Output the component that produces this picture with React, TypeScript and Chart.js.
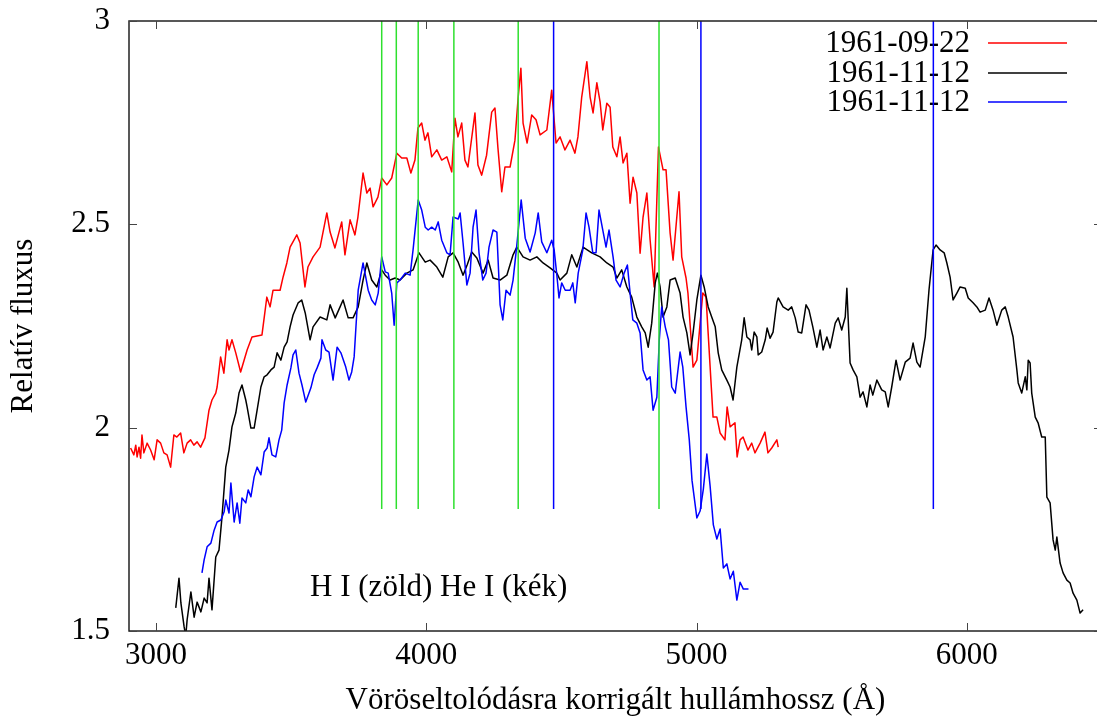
import React, { useEffect, useRef } from 'react';
import { Chart, registerables } from 'chart.js';

Chart.register(...registerables);

// ---------- data ----------
const redX = [2906,2918,2925,2930,2937,2943,2948,2955,2967,2980,2993,3004,3017,3029,3041,3054,3066,3077,3091,3103,3115,3128,3140,3152,3165,3181,3196,3207,3221,3226,3239,3251,3263,3270,3281,3295,3313,3337,3355,3392,3410,3422,3433,3459,3470,3484,3496,3521,3533,3544,3551,3562,3581,3607,3632,3644,3662,3687,3699,3718,3736,3747,3766,3780,3792,3803,3821,3835,3854,3872,3891,3909,3928,3943,3958,3969,3983,3995,4006,4020,4039,4057,4076,4094,4106,4117,4131,4143,4154,4180,4191,4205,4223,4242,4254,4265,4279,4291,4310,4328,4340,4350,4358,4373,4390,4406,4421,4446,4464,4480,4495,4513,4532,4550,4561,4575,4594,4606,4617,4631,4643,4653,4668,4680,4690,4705,4717,4728,4742,4754,4765,4779,4791,4802,4816,4828,4843,4859,4876,4887,4902,4913,4935,4945,4961,4968,4987,5001,5023,5035,5061,5075,5087,5105,5113,5124,5142,5150,5161,5172,5190,5204,5216,5235,5253,5264,5278,5297,5302];
const redY = [1.950,1.933,1.957,1.928,1.952,1.925,1.982,1.938,1.962,1.945,1.921,1.970,1.962,1.938,1.933,1.903,1.982,1.977,1.987,1.938,1.962,1.970,1.957,1.965,1.952,1.975,2.043,2.068,2.085,2.100,2.174,2.134,2.216,2.191,2.216,2.184,2.137,2.191,2.223,2.228,2.321,2.297,2.338,2.338,2.370,2.405,2.444,2.474,2.454,2.388,2.346,2.395,2.420,2.444,2.528,2.481,2.442,2.506,2.425,2.511,2.474,2.518,2.626,2.577,2.589,2.543,2.567,2.614,2.597,2.614,2.675,2.663,2.663,2.626,2.658,2.737,2.749,2.707,2.725,2.666,2.683,2.658,2.666,2.629,2.761,2.715,2.749,2.658,2.641,2.774,2.646,2.621,2.670,2.776,2.786,2.688,2.580,2.641,2.641,2.707,2.813,2.884,2.749,2.700,2.769,2.757,2.720,2.732,2.830,2.700,2.715,2.683,2.707,2.675,2.715,2.813,2.900,2.813,2.774,2.848,2.801,2.732,2.798,2.788,2.690,2.666,2.715,2.651,2.675,2.552,2.616,2.577,2.429,2.518,2.577,2.462,2.346,2.690,2.634,2.634,2.479,2.412,2.580,2.420,2.368,2.331,2.149,2.166,2.331,2.321,2.026,2.026,1.987,1.970,2.051,2.002,2.012,1.928,1.970,1.977,1.945,1.962,1.938,1.962,1.989,1.938,1.950,1.970,1.952];

const blackX = [3073,3085,3092,3104,3110,3115,3129,3141,3152,3166,3178,3189,3196,3207,3221,3233,3244,3258,3270,3281,3295,3307,3318,3332,3337,3351,3363,3374,3388,3400,3411,3425,3437,3448,3462,3474,3485,3496,3507,3526,3539,3552,3570,3581,3607,3632,3644,3663,3681,3692,3711,3729,3748,3766,3780,3798,3817,3835,3848,3866,3885,3903,3928,3951,3973,3996,4014,4039,4061,4081,4099,4118,4136,4151,4168,4187,4210,4229,4247,4273,4298,4321,4335,4358,4384,4409,4432,4458,4483,4495,4520,4538,4557,4580,4612,4643,4668,4691,4705,4723,4742,4760,4779,4797,4810,4821,4834,4847,4855,4865,4876,4890,4902,4921,4939,4950,4964,4976,4987,5001,5016,5028,5043,5056,5069,5080,5093,5112,5124,5135,5149,5167,5176,5186,5198,5204,5213,5223,5228,5241,5254,5261,5272,5283,5297,5302,5320,5339,5352,5365,5376,5389,5405,5416,5430,5445,5457,5468,5482,5494,5513,5524,5537,5550,5556,5568,5579,5593,5605,5616,5630,5642,5652,5667,5685,5698,5709,5722,5738,5753,5772,5790,5801,5815,5827,5846,5860,5875,5886,5901,5916,5926,5938,5949,5963,5975,5994,6005,6023,6037,6049,6068,6082,6097,6111,6129,6142,6153,6171,6185,6190,6203,6216,6222,6227,6234,6240,6253,6264,6277,6290,6296,6308,6319,6327,6333,6345,6356,6370,6382,6393,6407,6419,6430];
const blackY = [1.557,1.630,1.569,1.510,1.488,1.527,1.596,1.534,1.571,1.547,1.581,1.569,1.630,1.552,1.682,1.699,1.780,1.903,1.945,2.002,2.036,2.085,2.105,2.068,2.051,1.999,1.999,2.043,2.100,2.125,2.130,2.142,2.149,2.184,2.166,2.198,2.211,2.248,2.277,2.307,2.314,2.282,2.216,2.248,2.272,2.265,2.302,2.270,2.297,2.314,2.270,2.270,2.297,2.363,2.405,2.363,2.346,2.388,2.375,2.363,2.368,2.363,2.380,2.388,2.430,2.407,2.412,2.395,2.370,2.420,2.430,2.407,2.375,2.400,2.432,2.417,2.380,2.412,2.368,2.363,2.375,2.425,2.444,2.420,2.412,2.420,2.405,2.393,2.380,2.363,2.380,2.425,2.395,2.444,2.430,2.420,2.405,2.395,2.368,2.388,2.346,2.321,2.272,2.248,2.233,2.198,2.257,2.356,2.380,2.346,2.272,2.297,2.363,2.368,2.331,2.272,2.233,2.179,2.233,2.314,2.375,2.346,2.297,2.272,2.248,2.184,2.142,2.117,2.100,2.068,2.149,2.216,2.270,2.223,2.216,2.191,2.235,2.223,2.179,2.186,2.216,2.245,2.220,2.235,2.309,2.319,2.297,2.289,2.297,2.270,2.235,2.233,2.302,2.289,2.248,2.198,2.240,2.191,2.223,2.196,2.257,2.270,2.240,2.272,2.343,2.159,2.142,2.125,2.075,2.088,2.051,2.105,2.080,2.117,2.093,2.088,2.051,2.100,2.166,2.117,2.161,2.171,2.208,2.161,2.149,2.223,2.339,2.437,2.449,2.437,2.430,2.405,2.370,2.314,2.331,2.346,2.343,2.319,2.307,2.297,2.284,2.289,2.319,2.289,2.252,2.289,2.297,2.272,2.223,2.142,2.110,2.085,2.125,2.093,2.166,2.159,2.085,2.026,2.011,1.977,1.977,1.829,1.815,1.724,1.699,1.731,1.667,1.643,1.625,1.618,1.593,1.576,1.544,1.552];

const blueX = [3170,3178,3189,3203,3215,3226,3240,3252,3258,3270,3277,3289,3300,3310,3318,3332,3341,3351,3363,3374,3388,3400,3411,3418,3429,3443,3455,3465,3474,3485,3499,3507,3517,3529,3540,3554,3573,3585,3596,3610,3614,3628,3640,3655,3670,3684,3702,3714,3724,3733,3739,3748,3766,3785,3798,3811,3822,3835,3848,3859,3872,3881,3891,3903,3922,3940,3951,3970,3983,3996,4007,4020,4033,4044,4057,4076,4088,4099,4118,4125,4136,4150,4162,4173,4184,4195,4209,4221,4232,4247,4261,4273,4283,4295,4310,4321,4335,4351,4366,4384,4403,4414,4427,4446,4464,4473,4483,4491,4501,4514,4532,4542,4551,4562,4579,4591,4602,4616,4628,4639,4653,4665,4676,4691,4702,4717,4732,4744,4754,4764,4779,4791,4802,4816,4828,4839,4853,4862,4871,4884,4896,4908,4921,4939,4949,4961,4973,4983,5001,5013,5025,5038,5050,5062,5075,5087,5099,5112,5124,5136,5149,5161,5173,5192];
const blueY = [1.643,1.675,1.707,1.716,1.748,1.768,1.773,1.793,1.822,1.790,1.864,1.768,1.815,1.765,1.827,1.815,1.847,1.830,1.879,1.903,1.884,1.940,1.950,1.975,1.933,1.928,1.970,1.994,2.061,2.105,2.147,2.179,2.191,2.134,2.105,2.063,2.098,2.130,2.147,2.171,2.216,2.191,2.186,2.117,2.198,2.184,2.149,2.117,2.137,2.174,2.240,2.338,2.405,2.338,2.314,2.302,2.331,2.420,2.383,2.380,2.331,2.252,2.356,2.363,2.380,2.375,2.437,2.560,2.535,2.493,2.486,2.493,2.486,2.506,2.461,2.430,2.425,2.518,2.513,2.528,2.454,2.351,2.380,2.493,2.535,2.430,2.363,2.380,2.444,2.486,2.481,2.302,2.265,2.338,2.326,2.363,2.449,2.560,2.466,2.432,2.479,2.528,2.457,2.430,2.461,2.437,2.375,2.319,2.356,2.338,2.338,2.356,2.307,2.380,2.437,2.528,2.493,2.430,2.430,2.535,2.486,2.444,2.486,2.420,2.363,2.346,2.380,2.400,2.331,2.265,2.257,2.233,2.142,2.117,2.125,2.043,2.075,2.216,2.297,2.248,2.216,2.100,2.085,2.186,2.149,2.051,1.970,1.871,1.778,1.795,1.849,1.935,1.857,1.761,1.726,1.751,1.655,1.665,1.628,1.647,1.576,1.620,1.603,1.603];

const hLines = [3835, 3889, 3970, 4102, 4340, 4861];   // H I (green)
const heLines = [4471, 5016, 5876];                      // He I (blue)
const markerFrom = 1.8;
const markerTo = 3.0;

const seriesLabels = ['1961-09-22', '1961-11-12', '1961-11-12'];
const xTicks = [3000, 4000, 5000, 6000];
const yTicks = [1.5, 2, 2.5, 3];
const xRange = [2900, 6500];
const yRange = [1.5, 3];
const noteText = 'H I (zöld) He I (kék)';
const notePos = { x: 3570, y: 1.606 };

// ---------- styles ----------
const FONT = "'Liberation Serif', 'Times New Roman', serif";
const FS = 31;
const RED = '#ff0000';
const BLACK = '#000000';
const BLUE = '#0000ff';
const GREEN = '#2ee02e';
const PLOT_TOP = 21;

const pairs = (xs: number[], ys: number[]) => {
  const n = Math.min(xs.length, ys.length);
  const out: { x: number; y: number }[] = [];
  for (let i = 0; i < n; i++) out.push({ x: xs[i], y: ys[i] });
  return out;
};

const framePlugin = {
  id: 'gnuFrame',
  beforeDatasetsDraw(chart: any) {
    const { ctx, chartArea } = chart;
    const { right, top } = chartArea;
    const colors = [RED, BLACK, BLUE];
    ctx.save();
    ctx.font = `${FS}px ${FONT}`;
    ctx.textAlign = 'right';
    ctx.textBaseline = 'middle';
    ctx.fillStyle = '#000';
    const rows = [22, 52, 81];
    seriesLabels.forEach((lab, i) => {
      const yy = top + rows[i];
      ctx.fillText(lab, right - 132, yy + 1);
      ctx.strokeStyle = colors[i];
      ctx.lineWidth = 1.5;
      ctx.beginPath();
      ctx.moveTo(right - 114, yy);
      ctx.lineTo(right - 35, yy);
      ctx.stroke();
    });
    const sx = chart.scales.x;
    const sy = chart.scales.y;
    ctx.textAlign = 'left';
    ctx.fillText(noteText, sx.getPixelForValue(notePos.x), sy.getPixelForValue(notePos.y));
    ctx.restore();
  },
  afterDraw(chart: any) {
    const { ctx, chartArea } = chart;
    const { left, right, top, bottom } = chartArea;
    const sx = chart.scales.x;
    const sy = chart.scales.y;
    ctx.save();
    ctx.strokeStyle = '#222';
    ctx.lineWidth = 1.5;
    ctx.strokeRect(left, top, right - left, bottom - top);
    ctx.lineWidth = 1;
    ctx.strokeStyle = '#444';
    ctx.beginPath();
    xTicks.forEach((v) => {
      const px = Math.round(sx.getPixelForValue(v)) + 0.5;
      ctx.moveTo(px, bottom);
      ctx.lineTo(px, bottom - 8);
      ctx.moveTo(px, top);
      ctx.lineTo(px, top + 8);
    });
    yTicks.forEach((v) => {
      const py = Math.round(sy.getPixelForValue(v)) + 0.5;
      ctx.moveTo(left, py);
      ctx.lineTo(left + 8, py);
      ctx.moveTo(right, py);
      ctx.lineTo(right - 8, py);
    });
    ctx.stroke();
    ctx.restore();
  },
};

export default function App() {
  const ref = useRef<HTMLCanvasElement | null>(null);

  useEffect(() => {
    if (!ref.current) return;
    const markerSets: any[] = [];
    hLines.forEach((w) =>
      markerSets.push({
        data: [{ x: w, y: markerFrom }, { x: w, y: markerTo }],
        borderColor: GREEN,
        borderWidth: 1.5,
        pointRadius: 0,
        order: 0,
      })
    );
    heLines.forEach((w) =>
      markerSets.push({
        data: [{ x: w, y: markerFrom }, { x: w, y: markerTo }],
        borderColor: BLUE,
        borderWidth: 1.5,
        pointRadius: 0,
        order: 0,
      })
    );
    const chart = new Chart(ref.current, {
      type: 'line',
      data: {
        datasets: [
          ...markerSets,
          { label: seriesLabels[2], data: pairs(blueX, blueY), borderColor: BLUE, borderWidth: 1.5, pointRadius: 0, tension: 0, order: 1 },
          { label: seriesLabels[1], data: pairs(blackX, blackY), borderColor: BLACK, borderWidth: 1.5, pointRadius: 0, tension: 0, order: 2 },
          { label: seriesLabels[0], data: pairs(redX, redY), borderColor: RED, borderWidth: 1.5, pointRadius: 0, tension: 0, order: 3 },
        ],
      },
      options: {
        animation: false,
        responsive: false,
        devicePixelRatio: 1,
        clip: 0 as any,
        layout: { padding: { top: 0, right: 2, left: 0, bottom: 0 } },
        plugins: { legend: { display: false }, tooltip: { enabled: false } },
        elements: { line: { borderCapStyle: 'butt', borderJoinStyle: 'round' } },
        scales: {
          x: {
            type: 'linear',
            min: xRange[0],
            max: xRange[1],
            grid: { display: false, drawTicks: false },
            border: { display: false },
            afterBuildTicks: (s: any) => {
              s.ticks = xTicks.map((v) => ({ value: v }));
            },
            afterFit: (s: any) => {
              s.height = 91;
            },
            ticks: {
              font: { family: FONT, size: FS },
              color: '#000',
              padding: 6,
              maxRotation: 0,
              autoSkip: false,
              callback: (v: any) => String(v),
            },
            title: {
              display: true,
              text: 'Vöröseltolódásra korrigált hullámhossz (Å)',
              font: { family: FONT, size: FS },
              color: '#000',
              padding: { top: 0, bottom: 3 },
            },
          },
          y: {
            type: 'linear',
            min: yRange[0],
            max: yRange[1],
            grid: { display: false, drawTicks: false },
            border: { display: false },
            afterBuildTicks: (s: any) => {
              s.ticks = yTicks.map((v) => ({ value: v }));
            },
            afterFit: (s: any) => {
              s.width = 129;
              s.paddingTop = PLOT_TOP;
            },
            ticks: {
              font: { family: FONT, size: FS },
              color: '#000',
              padding: 19,
              callback: (v: any) => String(v),
            },
            title: {
              display: true,
              text: 'Relatív fluxus',
              font: { family: FONT, size: FS },
              color: '#000',
              padding: { top: 5, bottom: 0 },
            },
          },
        },
      },
      plugins: [framePlugin],
    } as any);
    return () => chart.destroy();
  }, []);

  return (
    <div style={{ position: 'fixed', left: 0, top: 0, width: 1097, height: 722, overflow: 'hidden', background: '#fff' }}>
      <canvas ref={ref} width={1104} height={722} style={{ display: 'block', width: 1104, height: 722 }} />
    </div>
  );
}
